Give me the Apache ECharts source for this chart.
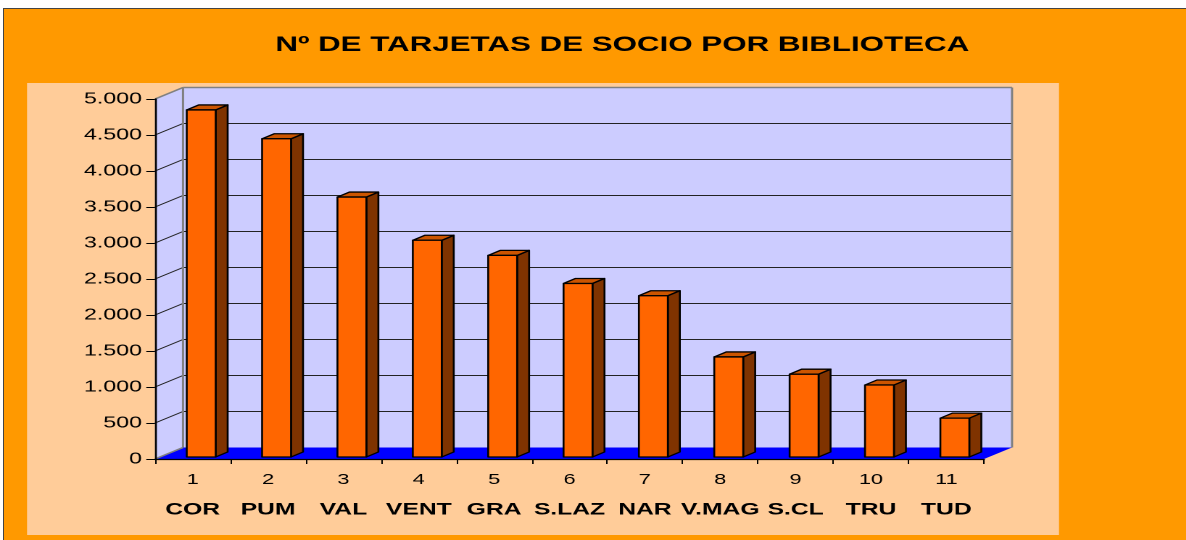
<!DOCTYPE html>
<html>
<head>
<meta charset="utf-8">
<script src="https://cdn.jsdelivr.net/npm/echarts@6/dist/echarts.min.js"></script>
<style>
  html, body { margin: 0; padding: 0; background: #fff; overflow: hidden; }
  #frame {
    position: absolute; left: 3px; top: 8px; right: 0; bottom: 0;
    background: #FF9900; border-top: 1px solid #444; border-left: 1px solid #444;
  }
  #chart { position: absolute; left: 0; top: 0; height: 540px; transform-origin: 0 0; }
</style>
</head>
<body>
<div id="frame"></div>
<div id="chart"></div>
<script>
// the original sheet chart is stretched sideways, so draw narrow and scale x
const SX = 1.45

const numbers = ['1', '2', '3', '4', '5', '6', '7', '8', '9', '10', '11']
const libraries = ['COR', 'PUM', 'VAL', 'VENT', 'GRA', 'S.LAZ', 'NAR', 'V.MAG', 'S.CL', 'TRU', 'TUD']
const cards = [4820, 4420, 3610, 3010, 2800, 2410, 2240, 1390, 1150, 1000, 540]
const yMax = 5000
const yStep = 500

// 3d look (unscaled px)
const DX = 28 / SX
const DY = 11.5
const BAR_RATIO = 0.384
const BAR_SHIFT_X = 8.5 / SX
const BAR_SHIFT_Y = 2
const BAR_DX = 12 / SX
const BAR_DY = 5

function fmtThousands(v) {
  if (v < 1000) return String(v)
  return Math.floor(v / 1000) + '.' + String(v % 1000).padStart(3, '0')
}

function renderFrame(params, api) {
  const cs = params.coordSys
  const L = cs.x, T = cs.y, R = cs.x + cs.width, B = cs.y + cs.height
  const line = (x1, y1, x2, y2, color, w) => ({
    type: 'line', shape: { x1, y1, x2, y2 }, style: { stroke: color, lineWidth: w }
  })
  const children = []
  children.push({
    type: 'rect', shape: { x: L + DX, y: T - DY, width: cs.width, height: cs.height },
    style: { fill: '#CCCCFF' }
  })
  for (let v = yStep; v < yMax; v += yStep) {
    const y = api.coord([0, v])[1]
    children.push(line(L + DX, y - DY, R + DX, y - DY, '#222', 1))
  }
  children.push({
    type: 'polygon', shape: { points: [[L, T], [L + DX, T - DY], [L + DX, B - DY], [L, B]] },
    style: { fill: '#CCCCFF' }
  })
  for (let v = yStep; v < yMax; v += yStep) {
    const y = api.coord([0, v])[1]
    children.push(line(L, y, L + DX, y - DY, '#222', 1))
  }
  children.push(line(L, T, L + DX, T - DY, '#808080', 1.5))
  children.push(line(L + DX, T - DY, R + DX, T - DY, '#808080', 1.5))
  children.push(line(R + DX, T - DY, R + DX, B - DY, '#808080', 1.5))
  children.push(line(L + DX, T - DY, L + DX, B - DY, '#808080', 1.5))
  children.push({
    type: 'polygon', shape: { points: [[L, B], [L + DX, B - DY], [R + DX, B - DY], [R, B]] },
    style: { fill: '#0000FF' }
  })
  children.push(line(L, B, L + DX, B - DY, '#808080', 1.5))
  return { type: 'group', children }
}

function renderBar(params, api) {
  const i = api.value(0)
  const base = api.coord([i, 0])
  const top = api.coord([i, api.value(1)])
  const w = api.size([1, 0])[0] * BAR_RATIO
  const x0 = base[0] - w / 2 + BAR_SHIFT_X
  const x1 = x0 + w
  const yb = base[1] - BAR_SHIFT_Y
  const yt = top[1] - BAR_SHIFT_Y
  const edge = { stroke: '#000', lineWidth: 1.3, lineJoin: 'round' }
  return {
    type: 'group',
    children: [
      { type: 'polygon', shape: { points: [[x1, yb], [x1 + BAR_DX, yb - BAR_DY], [x1 + BAR_DX, yt - BAR_DY], [x1, yt]] },
        style: Object.assign({ fill: '#7F3300' }, edge) },
      { type: 'polygon', shape: { points: [[x0, yt], [x0 + BAR_DX, yt - BAR_DY], [x1 + BAR_DX, yt - BAR_DY], [x1, yt]] },
        style: Object.assign({ fill: '#CC5500' }, edge) },
      { type: 'rect', shape: { x: x0, y: yt, width: w, height: yb - yt },
        style: Object.assign({ fill: '#FF6600' }, edge) }
    ]
  }
}

const el = document.getElementById('chart')
const W = 1186 / SX
el.style.width = W + 'px'
el.style.transform = 'scaleX(' + SX + ')'

const chart = echarts.init(el, null, { devicePixelRatio: 2 })
chart.setOption({
  animation: false,
  backgroundColor: 'transparent',
  title: {
    text: 'Nº DE TARJETAS DE SOCIO POR BIBLIOTECA',
    left: 615 / SX,
    top: 29,
    textAlign: 'center',
    textStyle: { fontFamily: 'Arial, "Liberation Sans"', fontWeight: 'bold', fontSize: 21.6, color: '#000' }
  },
  graphic: [
    { type: 'rect', z: -10, shape: { x: 27 / SX, y: 83, width: (1059 - 27) / SX, height: 535 - 83 },
      style: { fill: '#FFCC99' } }
  ],
  grid: { left: 155 / SX, top: 99, width: (984 - 155) / SX, height: 360 },
  xAxis: {
    type: 'category',
    data: libraries,
    z: 10,
    axisLine: { lineStyle: { color: '#000', width: 1.3 } },
    axisTick: { show: true, interval: 0, length: 5, lineStyle: { color: '#000', width: 1 } },
    axisLabel: {
      interval: 0,
      hideOverlap: false,
      margin: 6,
      formatter: (val, idx) => '{n|' + numbers[idx] + '}\n{b|' + val + '}',
      rich: {
        n: { fontFamily: 'Arial, "Liberation Sans"', fontSize: 15, color: '#000', lineHeight: 30 },
        b: { fontFamily: 'Arial, "Liberation Sans"', fontSize: 17, fontWeight: 'bold', color: '#000', lineHeight: 30 }
      }
    }
  },
  yAxis: {
    type: 'value',
    min: 0,
    max: yMax,
    interval: yStep,
    z: 10,
    axisLine: { show: true, lineStyle: { color: '#000', width: 1.3 } },
    axisTick: { show: true, length: 6, lineStyle: { color: '#000', width: 1 } },
    splitLine: { show: false },
    axisLabel: {
      margin: 9,
      fontFamily: 'Arial, "Liberation Sans"',
      fontSize: 16,
      color: '#000',
      formatter: fmtThousands
    }
  },
  series: [
    {
      type: 'custom',
      z: 1,
      silent: true,
      renderItem: renderFrame,
      data: [[0, 0]]
    },
    {
      type: 'custom',
      name: 'Tarjetas',
      z: 3,
      renderItem: renderBar,
      encode: { x: 0, y: 1 },
      data: cards.map((v, i) => [i, v])
    }
  ]
})
</script>
</body>
</html>
